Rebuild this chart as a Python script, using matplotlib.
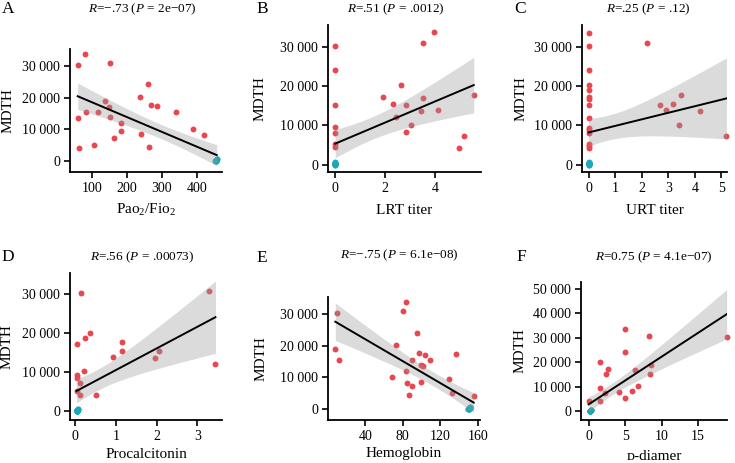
import numpy as np
import matplotlib
matplotlib.use("Agg")
import matplotlib.pyplot as plt
from matplotlib.ticker import FuncFormatter

plt.rcParams["font.family"] = ["Liberation Serif", "DejaVu Serif"]
plt.rcParams["mathtext.fontset"] = "custom"
plt.rcParams["mathtext.rm"] = "Liberation Serif"
plt.rcParams["mathtext.it"] = "Liberation Serif:italic"

# =========================
# DATA (patients, red)
# =========================
pao2 = [62, 81, 152, 60, 84, 119, 138, 150, 152, 184, 183, 162, 65, 106,
        238, 259, 269, 287, 241, 264, 341, 389, 421]
mdth_a = [30300, 33700, 31000, 13600, 15600, 15400, 18900, 17000, 13900, 12100,
          9400, 7300, 4200, 5100, 20100, 24200, 17700, 17300, 8500, 4500,
          15500, 10200, 8100]

lrt = [0, 0, 0, 0, 0, 0, 0, 1.93, 2.33, 2.63, 2.43, 2.83, 2.83, 3.04, 3.44,
       3.53, 3.53, 3.95, 4.13, 5.55, 4.96, 5.16]
mdth_b = [30300, 24100, 15300, 9500, 8100, 5200, 4500, 17300, 15400, 20200,
          12200, 15300, 8400, 10200, 13600, 17000, 31000, 33700, 13900, 17700,
          4300, 7200]

urt = [0, 0, 0, 0, 0, 0, 0, 0, 0, 0, 0, 0, 0, 0, 0,
       2.19, 2.69, 2.9, 3.19, 3.49, 3.4, 4.19, 5.19]
mdth_c = [33600, 30300, 24100, 20200, 18900, 17300, 16800, 15300, 12000, 9400,
          8800, 8100, 5200, 4800, 4200,
          30900, 15300, 13800, 15400, 17700, 10100, 13600, 7200]

pct = [0.15, 0.06, 0.37, 0.25, 0.23, 0.06, 0.06, 0.12, 0.04, 0.12, 0.51, 0.94,
       1.15, 1.15, 1.95, 2.07, 3.29, 3.44]
mdth_d = [30300, 17300, 20100, 18800, 10200, 9400, 8400, 7300, 5200, 4300, 4300,
          13800, 17700, 15500, 13600, 15400, 30800, 12000]

hgb = [9.9, 8.0, 11.6, 83.9, 80, 95, 73, 68.8, 96.8, 103.9, 109.2, 89.7, 99.6,
       102.1, 83.7, 84, 89.7, 99.6, 87, 129.6, 132.4, 137.3, 155.7]
mdth_e = [30400, 18900, 15600, 33800, 31100, 24200, 20200, 10200, 17800, 17100,
          15500, 15500, 13900, 13600, 12000, 8100, 7300, 8400, 4400, 9400, 5200,
          17400, 4200]

ddimer = [0, 1.6, 1.6, 1.5, 2.3, 2.4, 2.6, 4.1, 5.0, 5.0, 5.0, 5.9, 6.4, 6.8,
          8.3, 8.4, 8.5, 18.9]
mdth_f = [4300, 20200, 9500, 4300, 7600, 15400, 17300, 8000, 33600, 24300, 5300,
          8500, 16900, 10300, 30900, 15400, 18800, 30400]

# =========================
# DATA (controls, teal)
# =========================
ctrl_mdth = [0, 0, 50, 100, 100, 150, 200, 200, 250, 300, 350, 400, 450, 500, 600]
ctrl_pao2 = [452, 453, 453, 453, 454, 454, 454, 454, 454, 455, 455, 455, 455, 456, 456]
ctrl_lrt = [0, 0, 0, 0, 0, 0, 0, 0, 0, 0, 0, 0, 0, 0, 0]
ctrl_urt = [0, 0, 0, 0, 0, 0, 0, 0, 0, 0, 0, 0, 0, 0, 0]
ctrl_pct = [0.05, 0.05, 0.05, 0.06, 0.06, 0.06, 0.06, 0.06, 0.06, 0.06, 0.06,
            0.06, 0.07, 0.07, 0.07]
ctrl_hgb = [150, 150, 150.5, 150.5, 151, 151, 151, 151, 151, 151.5, 151.5, 151.5,
            152, 152, 152]
ctrl_ddimer = [0.2, 0.2, 0.2, 0.22, 0.22, 0.22, 0.22, 0.24, 0.24, 0.24, 0.24,
               0.26, 0.26, 0.26, 0.28]

letters = ["A", "B", "C", "D", "E", "F"]
titles = [r"$R$=−.73 ($P$ = 2e−07)", r"$R$=.51 ($P$ = .0012)",
          r"$R$=.25 ($P$ = .12)", r"$R$=.56 ($P$ = .00073)",
          r"$R$=−.75 ($P$ = 6.1e−08)", r"$R$=0.75 ($P$ = 4.1e−07)"]
xlabels = [r"Pao$_2$/Fio$_2$", "LRT titer", "URT titer", "Procalcitonin",
           "Hemoglobin", "ᴅ-diamer"]

RED = "#E8474F"
TEAL = "#1AA9B9"
W, H = 735, 463

# panel layout in pixels: axes (left, top, right, bottom), title, letter, ylabel x
panels = [
    dict(x=pao2, y=mdth_a, cx=ctrl_pao2, box=(70, 49, 222, 172),
         xlim=(38, 471), ylim=(-3500, 35400), xt=[100, 200, 300, 400],
         yt=[0, 10000, 20000, 30000], title=(142, 9), letter=(8, 9), ylx=8, xly=210),
    dict(x=lrt, y=mdth_b, cx=ctrl_lrt, box=(328, 25, 481, 172),
         xlim=(-0.29, 5.84), ylim=(-1900, 35600), xt=[0, 2, 4],
         yt=[0, 10000, 20000, 30000], title=(396, 9), letter=(262, 9), ylx=260, xly=211),
    dict(x=urt, y=mdth_c, cx=ctrl_urt, box=(582, 25, 727, 172),
         xlim=(-0.25, 5.21), ylim=(-1900, 35600), xt=[0, 1, 2, 3, 4, 5],
         yt=[0, 10000, 20000, 30000], title=(648, 9), letter=(520, 9), ylx=521, xly=211),
    dict(x=pct, y=mdth_d, cx=ctrl_pct, box=(70, 273, 222, 420),
         xlim=(-0.12, 3.6), ylim=(-2200, 35300), xt=[0, 1, 2, 3],
         yt=[0, 10000, 20000, 30000], title=(142, 257), letter=(8, 257), ylx=7, xly=454),
    dict(x=hgb, y=mdth_e, cx=ctrl_hgb, box=(328, 297, 480, 420),
         xlim=(0.2, 162.4), ylim=(-3500, 35500), xt=[40, 80, 120, 160],
         yt=[0, 10000, 20000, 30000], title=(399, 255), letter=(262, 258), ylx=261, xly=454),
    dict(x=ddimer, y=mdth_f, cx=ctrl_ddimer, box=(581, 282, 727, 420),
         xlim=(-1.05, 18.95), ylim=(-3500, 52700), xt=[0, 5, 10, 15],
         yt=[0, 10000, 20000, 30000, 40000, 50000], title=(654, 257), letter=(521, 257),
         ylx=520, xly=457),
]


def fit_with_ci(x, y):
    # ordinary least squares with 95% confidence band of the mean
    x = np.asarray(x, float)
    y = np.asarray(y, float)
    n = len(x)
    b, a = np.polyfit(x, y, 1)
    resid = y - (a + b * x)
    s = np.sqrt(np.sum(resid ** 2) / (n - 2))
    sxx = np.sum((x - x.mean()) ** 2)
    xs = np.linspace(x.min(), x.max(), 100)
    ys = a + b * xs
    se = s * np.sqrt(1 / n + (xs - x.mean()) ** 2 / sxx)
    t = 2.03
    return xs, ys, ys - t * se, ys + t * se


fmt = FuncFormatter(lambda v, p: f"{int(v):,}".replace(",", " "))

fig = plt.figure(figsize=(W / 100, H / 100), dpi=100)

for i, p in enumerate(panels):
    l, t, r, b = p["box"]
    ax = fig.add_axes([l / W, 1 - b / H, (r - l) / W, (b - t) / H])

    ax.scatter(p["x"], p["y"], s=18, color=RED, linewidths=0, zorder=2, clip_on=False)
    ax.scatter(p["cx"], ctrl_mdth, s=18, color=TEAL, linewidths=0, zorder=2, clip_on=False)

    all_x = list(p["x"]) + list(p["cx"])
    all_y = list(p["y"]) + list(ctrl_mdth)
    xs, ys, lo, hi = fit_with_ci(all_x, all_y)
    ax.fill_between(xs, lo, hi, color="#999999", alpha=0.35, linewidth=0, zorder=3)
    ax.plot(xs, ys, color="black", lw=1.4, zorder=4)

    ax.set_xlim(*p["xlim"])
    ax.set_ylim(*p["ylim"])
    ax.set_xticks(p["xt"])
    ax.set_yticks(p["yt"])
    ax.yaxis.set_major_formatter(fmt)
    ax.spines["top"].set_visible(False)
    ax.spines["right"].set_visible(False)
    for s in ["left", "bottom"]:
        ax.spines[s].set_linewidth(1.3)
    ax.tick_params(direction="out", length=4, width=1.2, labelsize=10, pad=3)

    # labels
    fig.text(p["letter"][0] / W, 1 - p["letter"][1] / H, letters[i],
             ha="center", va="center", fontsize=12.5)
    fig.text(p["title"][0] / W, 1 - p["title"][1] / H, titles[i],
             ha="center", va="center", fontsize=9.5)
    fig.text(p["ylx"] / W, 1 - (t + b) / 2 / H, "MDTH", rotation=90,
             ha="center", va="center", fontsize=11)
    fig.text((l + r) / 2 / W, 1 - p["xly"] / H, xlabels[i],
             ha="center", va="center", fontsize=11)

fig.savefig("out.png", dpi=100)
